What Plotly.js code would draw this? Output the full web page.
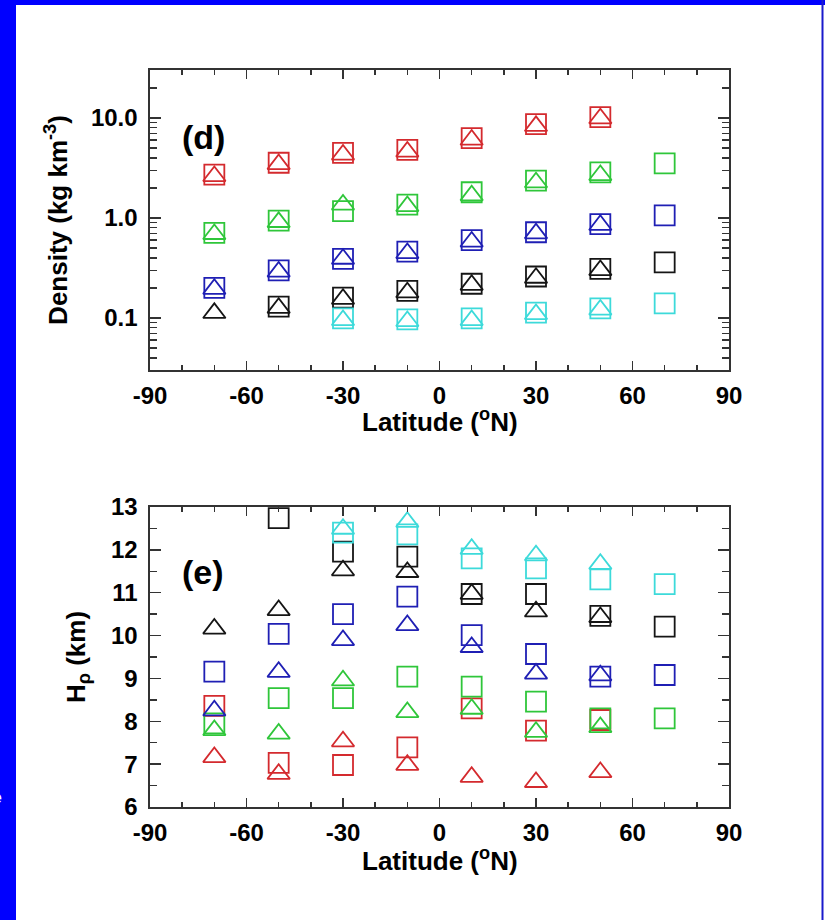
<!DOCTYPE html>
<html>
<head>
<meta charset="utf-8">
<script src="https://cdn.plot.ly/plotly-3.0.1.min.js"></script>
<style>html,body{margin:0;padding:0;background:#fff;overflow:hidden;}#chart{width:825px;height:920px;}</style>
</head>
<body>
<div id="chart"></div>
<script>
// Latitude bins (deg N)
const latitudes = [-70, -50, -30, -10, 10, 30, 50, 70];

// Panel (d): density (kg km^-3)
const densRedSq   = [2.71, 3.57, 4.49, 4.81, 6.30, 8.70, 10.2, null];
const densRedTri  = [2.62, 3.45, 4.30, 4.60, 6.05, 8.30, 9.90, null];
const densGreenSq = [0.71, 0.94, 1.17, 1.36, 1.81, 2.36, 2.86, 3.51];
const densGreenTri= [0.69, 0.91, 1.36, 1.31, 1.68, 2.27, 2.68, null];
const densBlueSq  = [0.20, 0.30, 0.39, 0.46, 0.60, 0.72, 0.87, 1.06];
const densBlueTri = [0.195, 0.29, 0.39, 0.445, 0.58, 0.70, 0.85, null];
const densBlackSq = [null, 0.130, 0.160, 0.187, 0.220, 0.260, 0.310, 0.360];
const densBlackTri= [0.112, 0.126, 0.155, 0.180, 0.214, 0.252, 0.300, null];
const densCyanSq  = [null, null, 0.099, 0.097, 0.099, 0.113, 0.125, 0.140];
const densCyanTri = [null, null, 0.095, 0.093, 0.095, 0.109, 0.121, null];

// Panel (e): density scale height H_rho (km)
const hRedSq    = [8.36, 7.03, 6.98, 7.39, 8.30, 7.78, 8.03, null];
const hRedTri   = [7.16, 6.77, 7.53, 6.98, 6.70, 6.58, 6.81, null];
const hGreenSq  = [7.95, 8.54, 8.54, 9.04, 8.81, 8.46, 8.07, 8.07];
const hGreenTri = [7.79, 7.71, 8.95, 8.21, 8.29, 7.75, 7.86, null];
const hBlueSq   = [9.16, 10.04, 10.50, 10.91, 10.01, 9.57, 9.04, 9.08];
const hBlueTri  = [8.25, 9.15, 9.89, 10.24, 9.73, 9.11, 9.07, null];
const hBlackSq  = [null, 12.74, 11.96, 11.84, 10.97, 10.97, 10.46, 10.21];
const hBlackTri = [10.16, 10.59, 11.52, 11.48, 10.97, 10.56, 10.43, null];
const hCyanSq   = [null, null, 12.40, 12.36, 11.80, 11.57, 11.31, 11.20];
const hCyanTri  = [null, null, 12.49, 12.65, 12.02, 11.87, 11.67, null];

// Axis tick labels
const latTicks = [-90, -60, -30, 0, 30, 60, 90];
const latTickText = ['-90', '-60', '-30', '0', '30', '60', '90'];
const densTickVals = [0.1, 1, 10];
const densTickText = ['0.1', '1.0', '10.0'];
const hTicks = [6, 7, 8, 9, 10, 11, 12, 13];
const hTickText = ['6', '7', '8', '9', '10', '11', '12', '13'];

const colors = {red:'#d42a2e', green:'#2fc63a', blue:'#1f1fb4', black:'#151515', cyan:'#3ddada'};
const FONT = 'Liberation Sans, Arial, Helvetica, sans-serif';

function tr(y, color, symbol, xa, ya) {
  return {
    x: latitudes, y: y, type: 'scatter', mode: 'markers',
    xaxis: xa, yaxis: ya, cliponaxis: true, hoverinfo: 'skip',
    marker: {symbol: symbol, size: symbol.startsWith('square') ? 20 : 19.5,
             color: color, line: {color: color, width: 1.8}}
  };
}
const SQ = 'square-open', TRI = 'triangle-up-open';
const data = [
  tr(densRedSq, colors.red, SQ, 'x', 'y'),   tr(densRedTri, colors.red, TRI, 'x', 'y'),
  tr(densGreenSq, colors.green, SQ, 'x', 'y'), tr(densGreenTri, colors.green, TRI, 'x', 'y'),
  tr(densBlueSq, colors.blue, SQ, 'x', 'y'),  tr(densBlueTri, colors.blue, TRI, 'x', 'y'),
  tr(densBlackSq, colors.black, SQ, 'x', 'y'), tr(densBlackTri, colors.black, TRI, 'x', 'y'),
  tr(densCyanSq, colors.cyan, SQ, 'x', 'y'),  tr(densCyanTri, colors.cyan, TRI, 'x', 'y'),
  tr(hRedSq, colors.red, SQ, 'x2', 'y2'),   tr(hRedTri, colors.red, TRI, 'x2', 'y2'),
  tr(hGreenSq, colors.green, SQ, 'x2', 'y2'), tr(hGreenTri, colors.green, TRI, 'x2', 'y2'),
  tr(hBlueSq, colors.blue, SQ, 'x2', 'y2'),  tr(hBlueTri, colors.blue, TRI, 'x2', 'y2'),
  tr(hBlackSq, colors.black, SQ, 'x2', 'y2'), tr(hBlackTri, colors.black, TRI, 'x2', 'y2'),
  tr(hCyanSq, colors.cyan, SQ, 'x2', 'y2'),  tr(hCyanTri, colors.cyan, TRI, 'x2', 'y2')
];

const W = 825, H = 920;
const px = v => v / W, py = v => 1 - v / H;
const tickFont = {family: FONT, size: 24, color: '#000', weight: 'bold'};
const titleFont = {family: FONT, size: 26, color: '#000', weight: 'bold'};
const lineStyle = {showline: true, linecolor: '#333', linewidth: 1.6, mirror: 'allticks',
  ticks: 'inside', tickcolor: '#333', tickwidth: 1.5, showgrid: false, zeroline: false};

function xAxis(anchor) {
  return Object.assign({}, lineStyle, {
    domain: [px(150), px(729)], range: [-90, 90], anchor: anchor,
    tickmode: 'array', tickvals: latTicks, ticktext: latTickText, ticklen: 9,
    minor: {tickmode: 'linear', tick0: -90, dtick: 10, ticks: 'inside', ticklen: 5, tickcolor: '#333', tickwidth: 1.5},
    tickfont: tickFont, ticklabelstandoff: 4
  });
}

const layout = {
  width: W, height: H, autosize: false,
  margin: {l: 0, r: 0, t: 0, b: 0},
  paper_bgcolor: '#fff', plot_bgcolor: '#fff', showlegend: false,
  xaxis: xAxis('y'),
  xaxis2: xAxis('y2'),
  yaxis: Object.assign({}, lineStyle, {
    type: 'log', domain: [py(370), py(70)], range: [-1.52, 1.48], anchor: 'x',
    tickmode: 'array', tickvals: densTickVals, ticktext: densTickText, ticklen: 11,
    minor: {tickmode: 'array', tickvals: [0.04,0.05,0.06,0.07,0.08,0.09,0.2,0.3,0.4,0.5,0.6,0.7,0.8,0.9,2,3,4,5,6,7,8,9,20],
            ticks: 'inside', ticklen: 7, tickcolor: '#333', tickwidth: 1.5},
    tickfont: tickFont, ticklabelstandoff: 6,
    title: {text: 'Density (kg km<sup>-3</sup>)', font: titleFont, standoff: 16}
  }),
  yaxis2: Object.assign({}, lineStyle, {
    domain: [py(807), py(507)], range: [6, 13], anchor: 'x2',
    tickmode: 'array', tickvals: hTicks, ticktext: hTickText, ticklen: 11,
    minor: {tickmode: 'linear', tick0: 6, dtick: 0.5, ticks: 'inside', ticklen: 7, tickcolor: '#333', tickwidth: 1.5},
    tickfont: tickFont, ticklabelstandoff: 6,
    title: {text: 'H<sub>ρ</sub> (km)', font: titleFont, standoff: 18}
  }),
  annotations: [
    {xref: 'paper', yref: 'paper', x: px(440), y: py(421), xanchor: 'center', yanchor: 'middle',
     text: 'Latitude (<sup>o</sup>N)', showarrow: false, font: titleFont},
    {xref: 'paper', yref: 'paper', x: px(440), y: py(859), xanchor: 'center', yanchor: 'middle',
     text: 'Latitude (<sup>o</sup>N)', showarrow: false, font: titleFont},
    {xref: 'paper', yref: 'paper', x: px(180), y: py(137), xanchor: 'left', yanchor: 'middle',
     text: '(d)', showarrow: false, font: {family: FONT, size: 34, color: '#000', weight: 'bold'}},
    {xref: 'paper', yref: 'paper', x: px(180), y: py(572), xanchor: 'left', yanchor: 'middle',
     text: '(e)', showarrow: false, font: {family: FONT, size: 34, color: '#000', weight: 'bold'}},
    {xref: 'paper', yref: 'paper', x: px(4), y: py(797), xanchor: 'right', yanchor: 'middle',
     text: 'e', showarrow: false, font: {family: FONT, size: 16, color: '#fff'}}
  ],
  shapes: [
    {type: 'rect', xref: 'paper', yref: 'paper', x0: 0, x1: px(16), y0: 0, y1: 1, fillcolor: '#0000ff', line: {width: 0}, layer: 'above'},
    {type: 'rect', xref: 'paper', yref: 'paper', x0: 0, x1: 1, y0: py(5), y1: 1, fillcolor: '#0000ff', line: {width: 0}, layer: 'above'},
    {type: 'rect', xref: 'paper', yref: 'paper', x0: px(821.5), x1: px(823.5), y0: 0, y1: 1, fillcolor: '#1a1acc', line: {width: 0}, layer: 'above'}
  ]
};

Plotly.newPlot('chart', data, layout, {staticPlot: true, displayModeBar: false});
</script>
</body>
</html>
